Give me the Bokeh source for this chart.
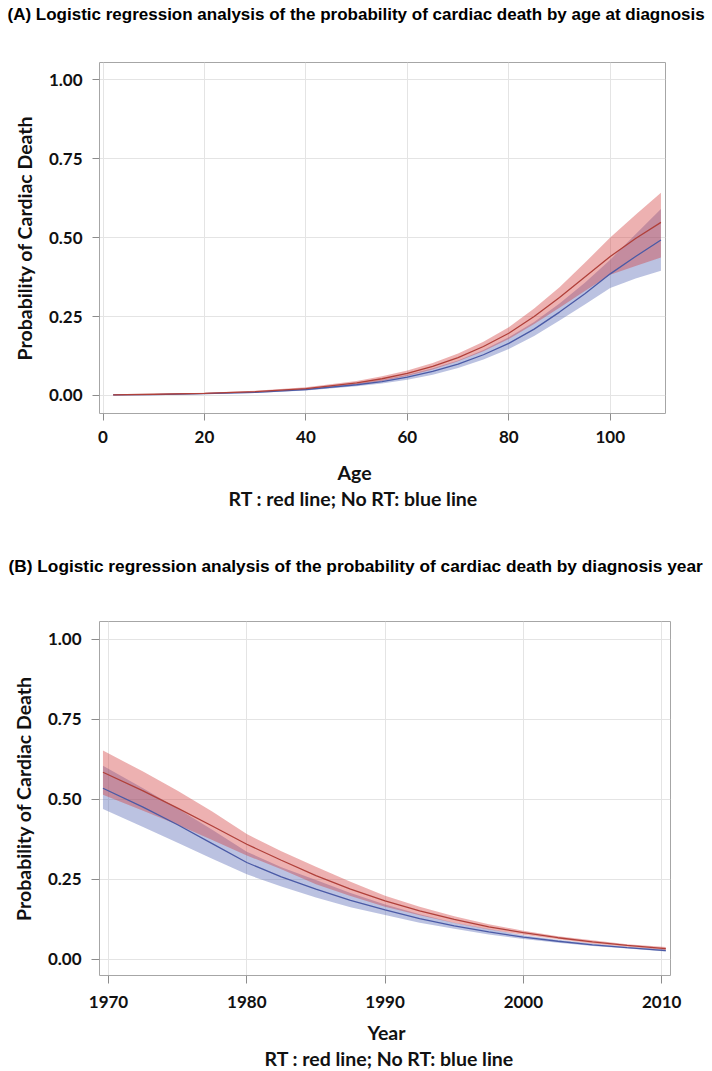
from bokeh.plotting import figure
from bokeh.models import Title, Range1d, FixedTicker, PrintfTickFormatter
from bokeh.layouts import column
from bokeh.embed import file_html
from bokeh.resources import INLINE

# ---------------- data: panel A (age at diagnosis) ----------------
ages = [2, 10, 20, 30, 40, 50, 55, 60, 65, 70, 75, 80, 85, 90, 95, 100, 105, 110]
a_red = [0.002, 0.004, 0.007, 0.012, 0.022, 0.040, 0.053, 0.070, 0.092, 0.120, 0.155, 0.197,
         0.250, 0.310, 0.375, 0.440, 0.497, 0.548]
a_red_hi = [0.003, 0.005, 0.009, 0.015, 0.026, 0.046, 0.061, 0.079, 0.103, 0.133, 0.170, 0.216,
            0.275, 0.343, 0.420, 0.500, 0.572, 0.642]
a_red_lo = [0.001, 0.003, 0.005, 0.010, 0.019, 0.035, 0.046, 0.062, 0.082, 0.108, 0.140, 0.179,
            0.226, 0.278, 0.331, 0.382, 0.410, 0.437]
a_blue = [0.002, 0.003, 0.006, 0.010, 0.019, 0.034, 0.044, 0.058, 0.076, 0.099, 0.129, 0.165,
          0.210, 0.264, 0.322, 0.385, 0.440, 0.492]
a_blue_hi = [0.003, 0.004, 0.008, 0.012, 0.022, 0.039, 0.050, 0.066, 0.086, 0.111, 0.144, 0.184,
             0.233, 0.291, 0.357, 0.430, 0.510, 0.590]
a_blue_lo = [0.001, 0.002, 0.005, 0.008, 0.016, 0.029, 0.038, 0.050, 0.066, 0.087, 0.114, 0.147,
             0.188, 0.237, 0.288, 0.340, 0.370, 0.395]

# ---------------- data: panel B (diagnosis year) ----------------
years = [1969.6, 1972.5, 1975, 1977.5, 1980, 1982.5, 1985, 1987.5, 1990, 1992.5, 1995,
         1997.5, 2000, 2002.5, 2005, 2007.5, 2010.3]
b_red = [0.585, 0.527, 0.473, 0.417, 0.360, 0.310, 0.262, 0.220, 0.183, 0.152, 0.125,
         0.102, 0.084, 0.068, 0.055, 0.044, 0.034]
b_red_hi = [0.653, 0.587, 0.527, 0.462, 0.392, 0.338, 0.290, 0.243, 0.199, 0.165, 0.135,
            0.110, 0.090, 0.073, 0.060, 0.048, 0.039]
b_red_lo = [0.515, 0.465, 0.421, 0.373, 0.325, 0.282, 0.235, 0.198, 0.165, 0.138, 0.114,
            0.094, 0.077, 0.063, 0.050, 0.040, 0.030]
b_blue = [0.535, 0.476, 0.421, 0.362, 0.303, 0.258, 0.220, 0.185, 0.155, 0.128, 0.105,
          0.086, 0.070, 0.057, 0.046, 0.037, 0.028]
b_blue_hi = [0.605, 0.535, 0.472, 0.405, 0.337, 0.288, 0.248, 0.208, 0.172, 0.141, 0.115,
             0.095, 0.076, 0.062, 0.050, 0.040, 0.032]
b_blue_lo = [0.470, 0.414, 0.365, 0.315, 0.266, 0.228, 0.194, 0.163, 0.139, 0.115, 0.096,
             0.078, 0.064, 0.052, 0.042, 0.034, 0.025]

y_ticks = [0.0, 0.25, 0.5, 0.75, 1.0]
a_x_ticks = [0, 20, 40, 60, 80, 100]
b_x_ticks = [1970, 1980, 1990, 2000, 2010]

title_a = "(A) Logistic regression analysis of the probability of cardiac death by age at diagnosis"
title_b = "(B) Logistic regression analysis of the probability of cardiac death by diagnosis year"
legend_text = "RT : red line;  No RT: blue line"
y_label = "Probability of Cardiac Death"

RED_FILL = "#d23c3c"
BLUE_FILL = "#5566b4"
RED_LINE = "#b0403a"
BLUE_LINE = "#4a5aa6"
AX_FONT = "Lato"
TITLE_FONT = "Liberation Sans"
LABEL_SIZE = "19.5px"


def spacer(standoff):
    return Title(text=" ", text_font_size="2px", standoff=standoff, text_color="white")


def text_title(text, align, offset, standoff, font=AX_FONT, size=LABEL_SIZE, color="#111111"):
    return Title(text=text, align=align, offset=offset, text_font=font,
                 text_font_style="bold", text_font_size=size, text_color=color,
                 standoff=standoff)


def make_panel(x, red, red_lo, red_hi, blue, blue_lo, blue_hi, xr, yr, xticks,
               fw, fh, bl, bt, br, bb, tick_out, tick_standoff):
    p = figure(frame_width=fw, frame_height=fh, x_range=Range1d(*xr), y_range=Range1d(*yr),
               output_backend="svg", toolbar_location=None,
               min_border_left=bl, min_border_top=bt, min_border_right=br,
               min_border_bottom=bb)
    p.varea(x=x, y1=blue_lo, y2=blue_hi, fill_color=BLUE_FILL, fill_alpha=0.4)
    p.varea(x=x, y1=red_lo, y2=red_hi, fill_color=RED_FILL, fill_alpha=0.4)
    p.line(x=x, y=blue, line_color=BLUE_LINE, line_width=1.3)
    p.line(x=x, y=red, line_color=RED_LINE, line_width=1.3)

    p.outline_line_color = "#a6a6a6"
    p.outline_line_width = 1
    for g in (p.xgrid, p.ygrid):
        g.grid_line_color = "#e4e4e4"
        g.grid_line_width = 1

    p.xaxis.ticker = FixedTicker(ticks=xticks)
    p.yaxis.ticker = FixedTicker(ticks=y_ticks)
    p.yaxis.formatter = PrintfTickFormatter(format="%.2f")
    for ax in (p.xaxis, p.yaxis):
        ax.axis_line_color = None
        ax.major_tick_line_color = "#8c8c8c"
        ax.major_tick_in = 0
        ax.major_tick_out = tick_out
        ax.minor_tick_line_color = None
        ax.major_label_text_font = AX_FONT
        ax.major_label_text_font_style = "bold"
        ax.major_label_text_font_size = "17px"
        ax.major_label_text_color = "#111111"
        ax.axis_label_text_font = AX_FONT
        ax.axis_label_text_font_style = "bold"
        ax.axis_label_text_font_size = LABEL_SIZE
        ax.axis_label_text_color = "#111111"
    p.yaxis.major_label_standoff = 10
    p.xaxis.major_label_standoff = tick_standoff
    p.yaxis.axis_label = y_label
    p.yaxis.axis_label_standoff = 10
    p.xaxis.axis_label = None
    return p


# ---- panel A ----
pa = make_panel(ages, a_red, a_red_lo, a_red_hi, a_blue, a_blue_lo, a_blue_hi,
                (-0.7, 110.9), (-0.057, 1.054), a_x_ticks,
                566, 351, 97, 62, 49, 127, 7, 10)
pa.add_layout(spacer(8), "below")
pa.add_layout(text_title("Age", "left", 238, 2), "below")
pa.add_layout(text_title(legend_text, "left", 129, 0), "below")
pa.add_layout(spacer(33), "above")
pa.add_layout(text_title(title_a, "left", -92, 4, font=TITLE_FONT, size="17px",
                         color="#000000"), "above")

# ---- panel B ----
pb = make_panel(years, b_red, b_red_lo, b_red_hi, b_blue, b_blue_lo, b_blue_hi,
                (1969.35, 2010.64), (-0.05, 1.056), b_x_ticks,
                571, 354, 99, 81, 42, 96, 8, 12)
pb.add_layout(spacer(3), "below")
pb.add_layout(text_title("Year", "left", 268, 2), "below")
pb.add_layout(text_title(legend_text, "left", 165, 0), "below")
pb.add_layout(spacer(40), "above")
pb.add_layout(text_title(title_b, "left", -91, 4, font=TITLE_FONT, size="17.3px",
                         color="#000000"), "above")

layout = column(pa, pb, spacing=0)
open("out.html", "w").write(file_html(layout, INLINE))
